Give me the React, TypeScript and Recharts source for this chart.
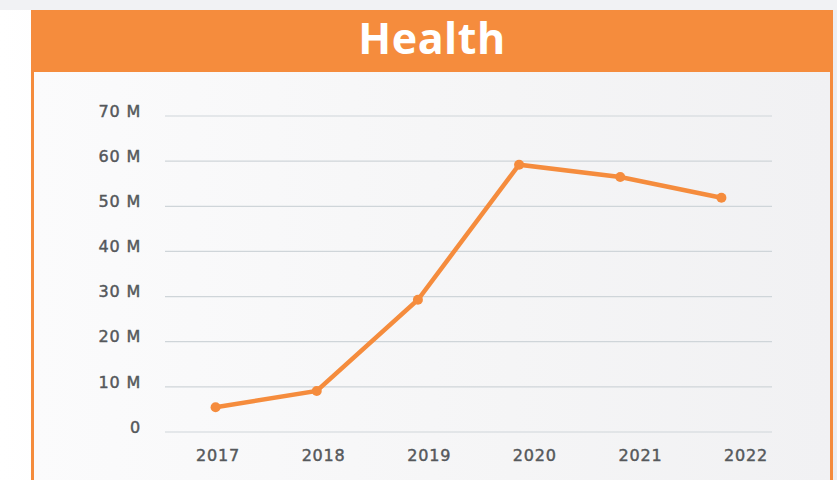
import React from "react";
import { LineChart, Line, XAxis, YAxis, CartesianGrid } from "recharts";

const years = ["2017", "2018", "2019", "2020", "2021", "2022"];
const values = [5.5, 9.1, 29.3, 59.2, 56.5, 51.9];
const yTicks = [0, 10, 20, 30, 40, 50, 60, 70];
const labelPositions = [0, 1, 2, 3, 4, 5];

const data = years.map((y, i) => ({ year: y, idx: labelPositions[i], value: values[i] }));

const ORANGE = "#F58C3D";
const FONT = "'Open Sans', 'Noto Sans', sans-serif";
const TICK_FONT = "'DejaVu Sans', sans-serif";
const TICK_COLOR = "#55585b";

export default function App() {
  return (
    <div style={{ position: "absolute", left: 0, top: 0, width: 837, height: 480, overflow: "hidden", background: "linear-gradient(90deg, #ffffff 0%, #f3f4f6 60%, #eceef1 100%)", fontFamily: FONT }}>
      <div style={{ position: "absolute", left: 0, top: 0, width: 837, height: 10, background: "#f1f2f4" }} />
      <div style={{ position: "absolute", left: 31, top: 10, width: 796, height: 480, borderLeft: `3px solid ${ORANGE}`, borderRight: `3px solid ${ORANGE}`, background: "linear-gradient(90deg, #fbfbfc 0%, #f5f5f6 60%, #f1f1f3 100%)" }} />
      <div style={{ position: "absolute", left: 31, top: 10, width: 802, height: 62, background: ORANGE, color: "#fff", fontWeight: 700, fontSize: 43, lineHeight: "56px", textAlign: "center", letterSpacing: 0.5 }}>
        Health
      </div>
      <div style={{ position: "absolute", left: 0, top: 0 }}>
        <LineChart width={837} height={480} data={data} margin={{ top: 116, right: 65, bottom: 18, left: 0 }}>
          <CartesianGrid vertical={false} stroke="#cfd5d9" strokeWidth={1.2} />
          <XAxis xAxisId="pts" dataKey="idx" type="number" domain={[-0.5, 5.5]} hide />
          <XAxis
            xAxisId="labels"
            dataKey="idx"
            type="number"
            domain={[-0.502, 5.246]}
            allowDataOverflow
            ticks={labelPositions}
            tickFormatter={(v: number) => years[v]}
            axisLine={false}
            tickLine={false}
            height={30}
            tickMargin={12}
            tick={{ fill: TICK_COLOR, stroke: TICK_COLOR, strokeWidth: 0.45, fontSize: 16, fontFamily: TICK_FONT, letterSpacing: 0.8 }}
          />
          <YAxis
            domain={[0, 70]}
            ticks={yTicks}
            width={165}
            axisLine={false}
            tickLine={false}
            tickMargin={18}
            tickFormatter={(v: number) => (v === 0 ? "0" : `${v} M`)}
            tick={{ fill: TICK_COLOR, stroke: TICK_COLOR, strokeWidth: 0.45, fontSize: 16, fontFamily: TICK_FONT, letterSpacing: 0.8, dy: -5 }}
          />
          <Line
            xAxisId="pts"
            dataKey="value"
            stroke={ORANGE}
            strokeWidth={4.5}
            dot={{ r: 5, fill: ORANGE, stroke: ORANGE, strokeWidth: 0 }}
            isAnimationActive={false}
          />
        </LineChart>
      </div>
    </div>
  );
}
